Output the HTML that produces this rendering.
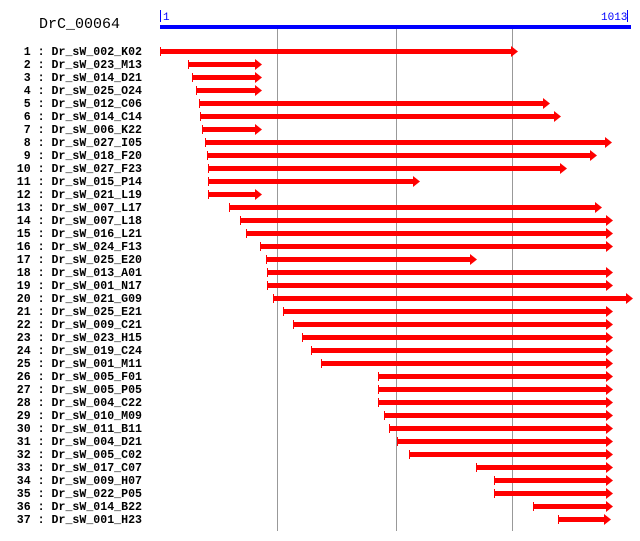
<!DOCTYPE html>
<html><head><meta charset="utf-8"><style>
html,body{margin:0;padding:0;background:#fff;}
svg{display:block}
text{font-family:"Liberation Mono",monospace;}
</style></head><body>
<svg width="640" height="541" xmlns="http://www.w3.org/2000/svg">
<text x="39" y="28" font-size="15" fill="#000">DrC_00064</text>
<line x1="160.5" y1="10" x2="160.5" y2="22" stroke="#00f" stroke-width="1"/>
<text x="163" y="20" font-size="11" fill="#00f">1</text>
<text x="601" y="20" font-size="11" fill="#00f">1013</text>
<line x1="627.5" y1="10" x2="627.5" y2="22" stroke="#00f" stroke-width="1"/>
<rect x="160" y="25" width="471" height="4" fill="#00f"/>
<g stroke="#999" stroke-width="1">
<line x1="277.5" y1="29" x2="277.5" y2="531"/>
<line x1="396.5" y1="29" x2="396.5" y2="531"/>
<line x1="512.5" y1="29" x2="512.5" y2="531"/>
</g>
<g id="rows"></g>
</svg>
<script>
var d=[[160,518,"002_K02"],[188,262,"023_M13"],[192,262,"014_D21"],[196,262,"025_O24"],[199,550,"012_C06"],[200,561,"014_C14"],[202,262,"006_K22"],[205,612,"027_I05"],[207,597,"018_F20"],[208,567,"027_F23"],[208,420,"015_P14"],[208,262,"021_L19"],[229,602,"007_L17"],[240,613,"007_L18"],[246,613,"016_L21"],[260,613,"024_F13"],[266,477,"025_E20"],[267,613,"013_A01"],[267,613,"001_N17"],[273,633,"021_G09"],[283,613,"025_E21"],[293,613,"009_C21"],[302,613,"023_H15"],[311,613,"019_C24"],[321,613,"001_M11"],[378,613,"005_F01"],[378,613,"005_P05"],[378,613,"004_C22"],[384,613,"010_M09"],[389,613,"011_B11"],[397,613,"004_D21"],[409,613,"005_C02"],[476,613,"017_C07"],[494,613,"009_H07"],[494,613,"022_P05"],[533,613,"014_B22"],[558,611,"001_H23"]];
var s="";
for(var i=0;i<d.length;i++){var y=51+i*13,a=d[i][0],b=d[i][1],n=i+1;
var lab=(n<10?" ":"")+n+" : Dr_sW_"+d[i][2];
s+='<text x="142" y="'+(y+4)+'" font-size="11.6" font-weight="bold" text-anchor="end" xml:space="preserve">'+lab+'</text>';
s+='<rect x="'+a+'" y="'+(y-2)+'" width="'+(b-a-6)+'" height="5" fill="#f00"/>';
s+='<rect x="'+a+'" y="'+(y-4)+'" width="1" height="9" fill="#f00"/>';
s+='<polygon points="'+(b-7)+','+(y-5)+' '+b+','+(y+0.5)+' '+(b-7)+','+(y+6)+'" fill="#f00"/>';}
document.getElementById("rows").innerHTML=s;
</script>
</body></html>
